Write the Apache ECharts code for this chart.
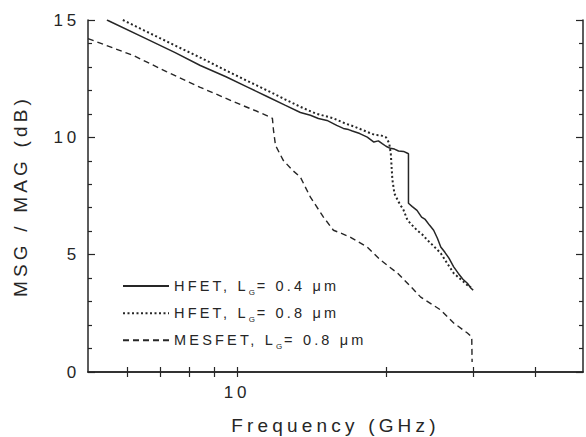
<!DOCTYPE html>
<html>
<head>
<meta charset="utf-8">
<script src="https://cdn.jsdelivr.net/npm/echarts@6/dist/echarts.min.js"></script>
<style>
  html, body { margin: 0; padding: 0; background: #ffffff; }
  #chart { width: 586px; height: 437px; }
  /* spaced-out lettering used throughout the figure */
  #chart text { letter-spacing: 0.22em; }
</style>
</head>
<body>
<div id="chart"></div>
<script>
// ---- data: frequency (GHz) and MSG / MAG (dB) ----
const freqHfet04 = [5.46, 6.5, 7.5, 8.43, 9.5, 10.5, 11.5, 12.5, 13.43, 14.07, 14.6, 15.2, 15.9, 16.4, 16.8, 17.1, 17.7, 18.33, 18.9, 19.3, 19.65, 20.0, 20.4, 20.8, 21.2, 21.7, 22.1, 22.2, 22.2, 22.6, 23.1, 23.6, 24.0, 24.5, 24.96, 25.4, 25.8, 26.3, 26.8, 27.4, 28.0, 28.6, 29.2, 29.7, 30.0];
const gainHfet04 = [15.0, 14.24, 13.61, 13.06, 12.58, 12.14, 11.74, 11.37, 11.06, 10.94, 10.80, 10.72, 10.51, 10.38, 10.33, 10.27, 10.16, 10.01, 9.80, 9.85, 9.73, 9.62, 9.53, 9.50, 9.42, 9.40, 9.32, 9.30, 7.19, 7.05, 6.89, 6.60, 6.50, 6.25, 6.04, 5.70, 5.33, 5.10, 4.85, 4.48, 4.20, 3.95, 3.78, 3.57, 3.49];

const freqHfet08 = [5.88, 6.5, 7.5, 8.43, 9.5, 10.5, 11.5, 12.5, 13.43, 14.4, 15.66, 16.5, 17.3, 18.33, 19.0, 19.5, 20.0, 20.3, 20.45, 20.6, 20.8, 21.2, 21.7, 22.1, 22.6, 23.1, 23.7, 24.25, 25.0, 25.8, 26.6, 27.4, 28.3, 29.2, 29.7];
const gainHfet08 = [15.0, 14.55, 13.91, 13.40, 12.85, 12.40, 12.0, 11.62, 11.30, 11.02, 10.81, 10.60, 10.45, 10.23, 10.10, 10.09, 10.0, 9.75, 9.30, 8.20, 7.60, 7.25, 6.90, 6.47, 6.25, 6.04, 5.85, 5.62, 5.35, 5.06, 4.62, 4.21, 3.95, 3.70, 3.62];

const freqMesfet = [5.0, 6.17, 7.2, 8.43, 10.15, 11.0, 11.68, 11.79, 11.85, 11.96, 12.4, 12.94, 13.43, 14.07, 14.95, 15.66, 16.3, 16.96, 18.33, 19.5, 21.1, 22.3, 23.5, 25.8, 27.4, 29.2, 29.8, 29.85];
const gainMesfet = [14.21, 13.49, 12.8, 12.13, 11.40, 11.1, 10.86, 10.81, 10.3, 9.66, 9.02, 8.60, 8.30, 7.45, 6.60, 6.04, 5.90, 5.74, 5.32, 4.77, 4.21, 3.70, 3.19, 2.64, 2.09, 1.66, 1.49, 0.43];

const devices = ['HFET', 'HFET', 'MESFET'];
const gateLengths = ['0.4', '0.8', '0.8'];
const xTickValues = [6, 7, 8, 9, 10, 20, 30, 40];
const xLabelValues = [10];

// ---- text metrics that include the letter spacing set in CSS ----
const LETTER_EM = 0.22;
const measureCtx = document.createElement('canvas').getContext('2d');
echarts.setPlatformAPI({
  measureText(text, font) {
    const f = font || '12px sans-serif';
    measureCtx.font = f;
    const m = f.match(/(\d+(?:\.\d+)?)px/);
    const size = m ? parseFloat(m[1]) : 12;
    return { width: measureCtx.measureText(text).width + Array.from(text).length * size * LETTER_EM };
  }
});

const ink = '#262626';
const fontFamily = 'Liberation Sans, Arial, sans-serif';

const pairs = (xs, ys) => xs.map((x, i) => [x, ys[i]]);
const names = devices.map((d, i) => `${d}, LG= ${gateLengths[i]} μm`);

const chart = echarts.init(document.getElementById('chart'), null, { renderer: 'svg' });

const xBase = {
  type: 'log',
  min: 5,
  max: 50,
  axisLine: { show: true, lineStyle: { color: ink, width: 1.5 } },
  axisTick: { show: true, inside: true, length: 5, customValues: xTickValues, lineStyle: { color: ink, width: 1.2 } },
  splitLine: { show: false },
  minorTick: { show: false },
  minorSplitLine: { show: false }
};
const yBase = {
  type: 'value',
  min: 0,
  max: 15,
  interval: 5,
  axisLine: { show: true, lineStyle: { color: ink, width: 1.5 } },
  axisTick: { show: true, inside: true, length: 7, lineStyle: { color: ink, width: 1.2 } },
  minorTick: { show: true, splitNumber: 5, length: 4, lineStyle: { color: ink, width: 1.2 } },
  splitLine: { show: false }
};

chart.setOption({
  animation: false,
  backgroundColor: '#ffffff',
  textStyle: { fontFamily: fontFamily, color: ink },
  grid: { left: 88, right: 3, top: 20, bottom: 65, outerBoundsMode: 'none', containLabel: false },
  xAxis: [
    Object.assign({}, xBase, {
      position: 'bottom',
      axisLabel: { show: true, customValues: xLabelValues, fontSize: 17, margin: 10, color: ink, fontFamily: fontFamily },
      name: 'Frequency (GHz)',
      nameLocation: 'middle',
      nameGap: 42,
      nameTextStyle: { fontSize: 19, color: ink, fontFamily: fontFamily }
    }),
    Object.assign({}, xBase, {
      position: 'top',
      axisLabel: { show: false }
    })
  ],
  yAxis: [
    Object.assign({}, yBase, {
      position: 'left',
      axisLabel: { show: true, fontSize: 17, margin: 8, color: ink, fontFamily: fontFamily },
      name: 'MSG / MAG (dB)',
      nameLocation: 'middle',
      nameGap: 56,
      nameTextStyle: { fontSize: 19, color: ink, fontFamily: fontFamily }
    }),
    Object.assign({}, yBase, {
      position: 'right',
      axisLabel: { show: false }
    })
  ],
  legend: {
    orient: 'vertical',
    left: 117,
    top: 272,
    itemWidth: 46,
    itemHeight: 14,
    itemGap: 7,
    data: names,
    // keep only the line sample in each legend entry
    itemStyle: { opacity: 0, borderWidth: 0 },
    formatter: function (name) {
      const i = names.indexOf(name);
      return `{t|${devices[i]}, L}{s|G}{t|= ${gateLengths[i]} μm}`;
    },
    textStyle: {
      color: ink,
      fontFamily: fontFamily,
      fontSize: 14.5,
      rich: {
        t: { fontSize: 14.5, lineHeight: 22, fontFamily: fontFamily, color: ink },
        s: { fontSize: 8, lineHeight: 8, verticalAlign: 'bottom', fontFamily: fontFamily, color: ink }
      }
    }
  },
  series: [
    {
      name: names[0],
      type: 'line',
      symbol: 'none',
      data: pairs(freqHfet04, gainHfet04),
      lineStyle: { color: ink, width: 1.5, type: 'solid' },
      itemStyle: { color: ink }
    },
    {
      name: names[1],
      type: 'line',
      symbol: 'none',
      data: pairs(freqHfet08, gainHfet08),
      lineStyle: { color: ink, width: 2, type: [2, 2.5] },
      itemStyle: { color: ink }
    },
    {
      name: names[2],
      type: 'line',
      symbol: 'none',
      data: pairs(freqMesfet, gainMesfet),
      lineStyle: { color: ink, width: 1.4, type: [6, 4] },
      itemStyle: { color: ink }
    }
  ]
});
</script>
</body>
</html>
